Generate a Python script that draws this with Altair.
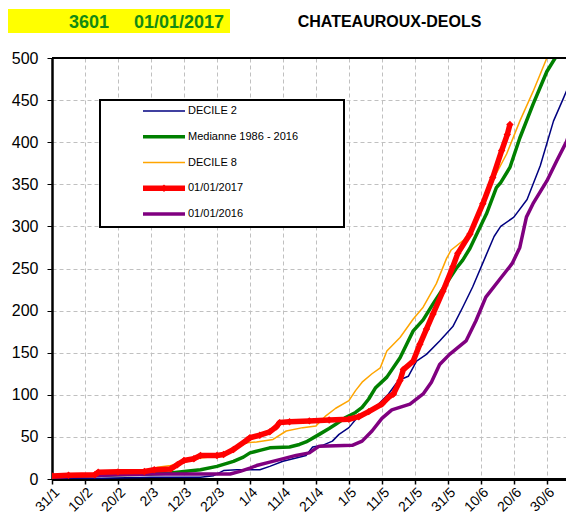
import altair as alt
import pandas as pd

# ---------------- data (day offset from 31/1, cumulative value) ----------------
SERIES = ["DECILE 2", "Medianne 1986 - 2016", "DECILE 8", "01/01/2017", "01/01/2016"]
COLORS = ["#000080", "#008000", "#FFA500", "#FF0000", "#800080"]
WIDTHS = [1.5, 3.5, 1.5, 5.5, 3.5]

TICK_DAYS = [0, 10, 20, 30, 40, 50, 60, 70, 80, 90, 100, 110, 120, 130, 140, 150]
TICK_LABELS = ["31/1", "10/2", "20/2", "2/3", "12/3", "22/3", "1/4", "11/4",
               "21/4", "1/5", "11/5", "21/5", "31/5", "10/6", "20/6", "30/6"]
Y_TICKS = [0, 50, 100, 150, 200, 250, 300, 350, 400, 450, 500]

D2_DAY = [0, 15, 30, 45, 49, 52, 56, 63, 66, 70, 74, 77, 79, 82, 85, 87, 90, 93, 96, 99,
          102, 105, 108, 110.5, 113.5, 117.5, 121.5, 124.5, 127.5, 131.5, 134, 136, 140,
          144, 148, 152, 155, 158]
D2_VAL = [1, 1, 2, 2, 4, 10, 11, 11, 15, 21, 25, 28, 38, 40, 45, 53, 61, 75, 81, 89,
          101, 117, 122, 140, 148, 164, 181, 204, 228, 265, 288, 300, 311,
          332, 372, 425, 452, 480]

MED_DAY = [0, 10, 20, 30, 36, 40, 45, 50, 55, 58, 60, 63, 66, 72, 75, 77, 81, 84, 86, 89,
           92, 94, 96, 98, 101.5, 105.5, 109.5, 112.5, 115.5, 119.5, 122.5, 124.5, 126.7,
           129, 131.7, 134.7, 136, 138.8, 141.8, 145.8, 150, 153]
MED_VAL = [3, 4, 5, 6, 7, 9, 11, 15, 21, 26, 31, 34, 37, 38, 41, 44, 53, 60, 65, 73,
           79, 85, 95, 108, 121, 144, 176, 189, 208, 232, 250, 260, 274,
           293, 315, 346, 352, 370, 405, 445, 484, 503]

D8_DAY = [0, 10, 20, 28, 32, 36, 40, 45, 50, 55, 59, 62, 67, 71, 76, 80, 83, 86, 90, 92,
          94, 97, 99.5, 101.5, 105.5, 109.5, 112.5, 116.5, 119.6, 121, 124.6, 127, 130,
          134, 137.8, 141.8, 145.8, 150, 151]
D8_VAL = [3, 4, 6, 8, 14, 16, 20, 25, 27, 35, 43, 44, 47, 57, 61, 63, 75, 84, 93, 105,
          115, 125, 132, 152, 168, 190, 204, 232, 262, 272, 283, 295, 325,
          358, 386, 425, 460, 500, 510]

Y17_DAY = [0, 5, 13, 14, 20, 28, 31, 36, 38, 40, 43, 45, 50, 52, 55, 59, 60, 63, 66, 68,
           69, 72, 78, 84, 90, 93, 96, 100, 102, 103.5, 105.5, 106.5, 109.5, 111.5, 113.5,
           115.5, 118.5, 121.5, 123, 126.7, 130.6, 133.6, 136.3, 138, 138.8]
Y17_VAL = [3.5, 4.5, 5, 8, 8.5, 9, 11, 12, 17, 22, 24, 28, 28, 29, 35, 46, 49, 52, 56, 62,
           67, 68, 69, 70, 71, 74, 80, 89, 97, 101, 117, 130, 140, 160, 178,
           196, 223, 252, 268, 291, 327, 358, 390, 409, 421]

Y16_DAY = [0, 5, 10, 20, 30, 54, 57, 60, 62, 66, 69, 74, 78, 81, 91, 94, 97, 100, 103,
           108.5, 112.5, 115, 117.5, 120.5, 125.5, 128.5, 131.5, 135.5, 139.5, 141.8,
           143.8, 145.8, 150, 153, 156, 158]
Y16_VAL = [2, 3, 4, 5, 6, 6, 9, 13, 16, 20, 23, 28, 31, 39, 40, 45, 57, 72, 82,
           89, 101, 115, 136, 148, 164, 188, 216, 236, 256, 275,
           311, 327, 354, 378, 401, 425]

frames = []
for name, days, vals in [("DECILE 2", D2_DAY, D2_VAL),
                         ("Medianne 1986 - 2016", MED_DAY, MED_VAL),
                         ("DECILE 8", D8_DAY, D8_VAL),
                         ("01/01/2016", Y16_DAY, Y16_VAL),
                         ("01/01/2017", Y17_DAY, Y17_VAL)]:
    frames.append(pd.DataFrame({"day": days, "val": vals, "series": name}))
df = pd.concat(frames, ignore_index=True)
df_red = df[df["series"] == "01/01/2017"]
df_top = pd.DataFrame({"val": [Y_TICKS[-1]]})
one = pd.DataFrame({"k": [0]})

# ---------------- chart ----------------
FONT = "Liberation Sans"
W, H = 514, 421
label_expr = "[" + ",".join("'%s'" % t for t in TICK_LABELS) + "][round(datum.value/10)]"

xscale = alt.Scale(domain=[0, 155.8], nice=False, zero=False)
yscale = alt.Scale(domain=[0, 500], nice=False)

x_axis = alt.Axis(values=TICK_DAYS, labelExpr=label_expr, labelAngle=-45, title=None,
                  labelFontSize=14, labelFont=FONT, labelColor="black",
                  domainColor="black", domainWidth=3, tickColor="black", tickSize=5,
                  tickWidth=1.5, labelPadding=1, grid=True, gridColor="#c0c0c0",
                  gridDash=[4, 3], gridWidth=1, labelOverlap=False, labelBound=False)
y_axis = alt.Axis(values=Y_TICKS, title=None, labelFontSize=16, labelFont=FONT,
                  labelColor="black", domainColor="black", domainWidth=2.5,
                  tickColor="black", tickSize=5, tickWidth=1, labelPadding=9,
                  grid=True, gridColor="#c0c0c0", gridDash=[4, 3], gridWidth=1,
                  labelOverlap=False)

X = alt.X("day:Q", scale=xscale, axis=x_axis)
Y = alt.Y("val:Q", scale=yscale, axis=y_axis)

lines = alt.Chart(df).mark_line(clip=True, strokeJoin="round").encode(
    x=X, y=Y,
    color=alt.Color("series:N", scale=alt.Scale(domain=SERIES, range=COLORS), legend=None),
    strokeWidth=alt.StrokeWidth("series:N",
                                scale=alt.Scale(type="ordinal", domain=SERIES, range=WIDTHS),
                                legend=None),
)

red_pts = alt.Chart(df_red).mark_point(shape="diamond", filled=True, size=55,
                                       color="#FF0000", opacity=1, clip=True).encode(x=X, y=Y)

top_rule = alt.Chart(df_top).mark_rule(color="black", strokeWidth=2).encode(y=Y)

# ---- legend (drawn as a boxed key) ----
LEG_X0, LEG_X1, LEG_Y0, LEG_Y1 = 48, 292, 42, 169
ROW0, ROW_STEP = 53, 25.75
SYM_X0, SYM_X1, LAB_X = 91, 133, 136

legend_layers = [alt.Chart(one).mark_rect(fill="white", stroke="black", strokeWidth=2).encode(
    x=alt.value(LEG_X0), x2=alt.value(LEG_X1), y=alt.value(LEG_Y0), y2=alt.value(LEG_Y1))]
for i, (name, col, w) in enumerate(zip(SERIES, COLORS, WIDTHS)):
    ry = ROW0 + i * ROW_STEP
    legend_layers.append(alt.Chart(one).mark_rule(color=col, strokeWidth=w).encode(
        x=alt.value(SYM_X0), x2=alt.value(SYM_X1), y=alt.value(ry)))
    legend_layers.append(alt.Chart(one).mark_text(text=name, font=FONT, fontSize=11,
                                                  color="black", align="left",
                                                  baseline="middle").encode(
        x=alt.value(LAB_X), y=alt.value(ry)))
    if name == "01/01/2017":
        legend_layers.append(alt.Chart(one).mark_point(shape="diamond", filled=True, size=55,
                                                       color=col, opacity=1).encode(
            x=alt.value((SYM_X0 + SYM_X1) / 2), y=alt.value(ry)))

yellow = alt.Chart(one).mark_rect(fill="#FFFF00").encode(
    x=alt.value(-44), x2=alt.value(178), y=alt.value(-49), y2=alt.value(-25)
)
t_station = alt.Chart(one).mark_text(text="3601", font=FONT, fontSize=18, fontWeight="bold",
                                     color="#138a13", align="center",
                                     baseline="alphabetic").encode(
    x=alt.value(37), y=alt.value(-30))
t_date = alt.Chart(one).mark_text(text="01/01/2017", font=FONT, fontSize=18, fontWeight="bold",
                                  color="#138a13", align="center",
                                  baseline="alphabetic").encode(
    x=alt.value(127), y=alt.value(-30))
t_title = alt.Chart(one).mark_text(text="CHATEAUROUX-DEOLS", font=FONT, fontSize=16,
                                   fontWeight="bold", color="black", align="center",
                                   baseline="alphabetic").encode(
    x=alt.value(337.5), y=alt.value(-31))

chart = alt.layer(lines, red_pts, top_rule, *legend_layers, yellow, t_station, t_date,
                  t_title).properties(
    width=W, height=H,
    autosize=alt.AutoSizeParams(type="none"),
    padding={"left": 44, "top": 50, "right": 0, "bottom": 36},
).configure_view(strokeWidth=0).configure(background="white")

chart.save("out.html", embed_options={"renderer": "svg", "actions": False})
